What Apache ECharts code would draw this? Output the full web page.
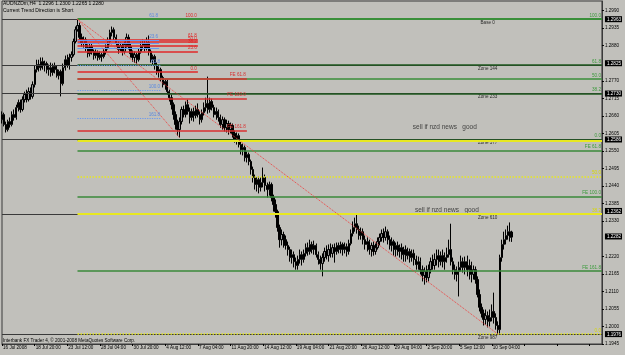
<!DOCTYPE html>
<html><head><meta charset="utf-8">
<script src="https://cdn.jsdelivr.net/npm/echarts@6/dist/echarts.min.js"></script>
<style>html,body{margin:0;padding:0;background:#c1c0bb}#c{width:625px;height:355px}</style>
</head><body><div id="c"></div>
<script>
// ---- data ----
const xTickLabels = ['16 Jul 2008','18 Jul 20:00','23 Jul 12:00','28 Jul 04:00','30 Jul 20:00','4 Aug 12:00','7 Aug 04:00','11 Aug 20:00','14 Aug 12:00','19 Aug 04:00','21 Aug 20:00','26 Aug 12:00','29 Aug 04:00','2 Sep 20:00','5 Sep 12:00','10 Sep 04:00'];
const slotCount = 295;
// [open, close, low, high]
const candles = [
[1.2648,1.2664,1.2636,1.2674],[1.2664,1.2633,1.2627,1.2670],[1.2633,1.2617,1.2608,1.2642],[1.2617,1.2642,1.2611,1.2648],[1.2642,1.2633,1.2623,1.2655],
[1.2633,1.2664,1.2627,1.2674],[1.2664,1.2655,1.2645,1.2680],[1.2655,1.2686,1.2648,1.2695],[1.2686,1.2702,1.2674,1.2711],[1.2702,1.2680,1.2670,1.2711],
[1.2680,1.2711,1.2674,1.2721],[1.2711,1.2727,1.2702,1.2736],[1.2727,1.2711,1.2702,1.2742],[1.2711,1.2736,1.2705,1.2749],[1.2736,1.2721,1.2711,1.2749],
[1.2721,1.2758,1.2714,1.2768],[1.2758,1.2805,1.2749,1.2818],[1.2805,1.2821,1.2796,1.2836],[1.2821,1.2811,1.2799,1.2836],[1.2811,1.2830,1.2802,1.2843],
[1.2830,1.2818,1.2805,1.2843],[1.2818,1.2824,1.2799,1.2833],[1.2824,1.2805,1.2793,1.2830],[1.2805,1.2811,1.2786,1.2821],[1.2811,1.2796,1.2783,1.2827],
[1.2796,1.2815,1.2786,1.2824],[1.2815,1.2805,1.2793,1.2827],[1.2805,1.2786,1.2780,1.2818],[1.2786,1.2799,1.2774,1.2805],[1.2799,1.2761,1.2721,1.2805],
[1.2761,1.2811,1.2755,1.2824],[1.2811,1.2836,1.2802,1.2849],[1.2836,1.2818,1.2811,1.2852],[1.2818,1.2843,1.2805,1.2855],[1.2843,1.2852,1.2830,1.2862],
[1.2852,1.2893,1.2846,1.2902],[1.2893,1.2930,1.2887,1.2940],[1.2930,1.2943,1.2924,1.2962],[1.2943,1.2906,1.2899,1.2952],[1.2906,1.2887,1.2877,1.2918],
[1.2887,1.2899,1.2874,1.2909],[1.2899,1.2874,1.2862,1.2906],[1.2874,1.2855,1.2843,1.2884],[1.2855,1.2877,1.2846,1.2887],[1.2877,1.2862,1.2852,1.2887],
[1.2862,1.2849,1.2836,1.2868],[1.2849,1.2858,1.2840,1.2868],[1.2858,1.2843,1.2833,1.2865],[1.2843,1.2852,1.2836,1.2862],[1.2852,1.2846,1.2830,1.2858],
[1.2846,1.2862,1.2840,1.2871],[1.2862,1.2874,1.2852,1.2884],[1.2874,1.2893,1.2868,1.2906],[1.2893,1.2921,1.2884,1.2930],[1.2921,1.2930,1.2909,1.2940],
[1.2930,1.2906,1.2896,1.2937],[1.2906,1.2887,1.2877,1.2915],[1.2887,1.2868,1.2855,1.2893],[1.2868,1.2880,1.2862,1.2890],[1.2880,1.2862,1.2849,1.2887],
[1.2862,1.2884,1.2855,1.2893],[1.2884,1.2906,1.2874,1.2918],[1.2906,1.2877,1.2868,1.2915],[1.2877,1.2855,1.2843,1.2887],[1.2855,1.2843,1.2830,1.2865],
[1.2843,1.2852,1.2827,1.2862],[1.2852,1.2836,1.2824,1.2858],[1.2836,1.2862,1.2830,1.2871],[1.2862,1.2880,1.2855,1.2893],[1.2880,1.2887,1.2868,1.2899],
[1.2887,1.2871,1.2862,1.2896],[1.2871,1.2890,1.2865,1.2906],[1.2890,1.2862,1.2849,1.2912],[1.2862,1.2836,1.2827,1.2868],[1.2836,1.2846,1.2821,1.2852],
[1.2846,1.2818,1.2805,1.2852],[1.2818,1.2799,1.2789,1.2827],[1.2799,1.2805,1.2780,1.2815],[1.2805,1.2780,1.2768,1.2811],[1.2780,1.2758,1.2749,1.2786],
[1.2758,1.2768,1.2742,1.2774],[1.2768,1.2736,1.2727,1.2774],[1.2736,1.2717,1.2705,1.2742],[1.2717,1.2695,1.2680,1.2727],[1.2695,1.2664,1.2648,1.2702],
[1.2664,1.2633,1.2617,1.2674],[1.2633,1.2617,1.2598,1.2648],[1.2617,1.2642,1.2592,1.2655],[1.2642,1.2680,1.2633,1.2689],[1.2680,1.2664,1.2655,1.2692],
[1.2664,1.2695,1.2655,1.2705],[1.2695,1.2674,1.2664,1.2711],[1.2674,1.2655,1.2636,1.2686],[1.2655,1.2674,1.2645,1.2683],[1.2674,1.2661,1.2642,1.2686],
[1.2661,1.2680,1.2652,1.2692],[1.2680,1.2664,1.2655,1.2699],[1.2664,1.2648,1.2633,1.2674],[1.2648,1.2670,1.2639,1.2680],[1.2670,1.2686,1.2661,1.2702],
[1.2686,1.2699,1.2674,1.2717],[1.2699,1.2680,1.2667,1.2783],[1.2680,1.2705,1.2670,1.2717],[1.2705,1.2686,1.2677,1.2714],[1.2686,1.2664,1.2655,1.2695],
[1.2664,1.2674,1.2648,1.2686],[1.2674,1.2655,1.2642,1.2680],[1.2655,1.2633,1.2623,1.2664],[1.2633,1.2648,1.2617,1.2658],[1.2648,1.2623,1.2611,1.2655],
[1.2623,1.2636,1.2608,1.2648],[1.2636,1.2617,1.2601,1.2645],[1.2617,1.2630,1.2605,1.2639],[1.2630,1.2605,1.2592,1.2636],[1.2605,1.2586,1.2576,1.2614],
[1.2586,1.2598,1.2570,1.2608],[1.2598,1.2570,1.2561,1.2605],[1.2570,1.2554,1.2539,1.2580],[1.2554,1.2561,1.2536,1.2573],[1.2561,1.2529,1.2517,1.2567],
[1.2529,1.2539,1.2514,1.2548],[1.2539,1.2517,1.2505,1.2545],[1.2517,1.2492,1.2476,1.2523],[1.2492,1.2467,1.2451,1.2501],[1.2467,1.2445,1.2429,1.2476],
[1.2445,1.2460,1.2423,1.2467],[1.2460,1.2436,1.2417,1.2470],[1.2436,1.2451,1.2423,1.2467],[1.2451,1.2467,1.2436,1.2498],[1.2467,1.2442,1.2423,1.2476],
[1.2442,1.2429,1.2404,1.2451],[1.2429,1.2445,1.2410,1.2454],[1.2445,1.2404,1.2392,1.2451],[1.2404,1.2382,1.2360,1.2413],[1.2382,1.2360,1.2341,1.2398],
[1.2360,1.2310,1.2297,1.2366],[1.2310,1.2272,1.2247,1.2319],[1.2272,1.2288,1.2254,1.2304],[1.2288,1.2272,1.2247,1.2297],[1.2272,1.2254,1.2241,1.2285],
[1.2254,1.2241,1.2222,1.2266],[1.2241,1.2216,1.2203,1.2250],[1.2216,1.2225,1.2197,1.2241],[1.2225,1.2203,1.2185,1.2235],[1.2203,1.2191,1.2178,1.2216],
[1.2191,1.2210,1.2178,1.2222],[1.2210,1.2225,1.2197,1.2241],[1.2225,1.2210,1.2191,1.2235],[1.2210,1.2229,1.2200,1.2241],[1.2229,1.2247,1.2219,1.2260],
[1.2247,1.2235,1.2222,1.2263],[1.2235,1.2257,1.2225,1.2272],[1.2257,1.2241,1.2229,1.2266],[1.2241,1.2254,1.2225,1.2269],[1.2254,1.2225,1.2216,1.2260],
[1.2225,1.2210,1.2194,1.2235],[1.2210,1.2197,1.2178,1.2222],[1.2197,1.2216,1.2157,1.2229],[1.2216,1.2235,1.2203,1.2247],[1.2235,1.2222,1.2210,1.2254],
[1.2222,1.2241,1.2203,1.2257],[1.2241,1.2229,1.2216,1.2260],[1.2229,1.2247,1.2216,1.2257],[1.2247,1.2235,1.2200,1.2260],[1.2235,1.2254,1.2225,1.2263],
[1.2254,1.2241,1.2229,1.2263],[1.2241,1.2257,1.2229,1.2266],[1.2257,1.2241,1.2222,1.2263],[1.2241,1.2250,1.2229,1.2263],[1.2250,1.2235,1.2219,1.2260],
[1.2235,1.2260,1.2225,1.2272],[1.2260,1.2291,1.2254,1.2304],[1.2291,1.2310,1.2282,1.2329],[1.2310,1.2322,1.2297,1.2341],[1.2322,1.2304,1.2291,1.2351],
[1.2304,1.2285,1.2272,1.2316],[1.2285,1.2297,1.2272,1.2310],[1.2297,1.2272,1.2257,1.2307],[1.2272,1.2257,1.2241,1.2285],[1.2257,1.2266,1.2235,1.2279],
[1.2266,1.2241,1.2225,1.2272],[1.2241,1.2254,1.2219,1.2263],[1.2254,1.2235,1.2222,1.2266],[1.2235,1.2247,1.2225,1.2260],[1.2247,1.2266,1.2241,1.2279],
[1.2266,1.2279,1.2254,1.2291],[1.2279,1.2291,1.2266,1.2304],[1.2291,1.2279,1.2263,1.2307],[1.2279,1.2297,1.2269,1.2313],[1.2297,1.2272,1.2257,1.2304],
[1.2272,1.2254,1.2241,1.2285],[1.2254,1.2266,1.2235,1.2279],[1.2266,1.2241,1.2222,1.2272],[1.2241,1.2254,1.2219,1.2263],[1.2254,1.2235,1.2222,1.2266],
[1.2235,1.2247,1.2216,1.2257],[1.2247,1.2225,1.2210,1.2260],[1.2225,1.2241,1.2203,1.2250],[1.2241,1.2222,1.2203,1.2254],[1.2222,1.2235,1.2210,1.2247],
[1.2235,1.2216,1.2200,1.2244],[1.2216,1.2229,1.2203,1.2241],[1.2229,1.2210,1.2191,1.2241],[1.2210,1.2194,1.2178,1.2222],[1.2194,1.2203,1.2178,1.2219],
[1.2203,1.2178,1.2163,1.2216],[1.2178,1.2160,1.2141,1.2191],[1.2160,1.2172,1.2131,1.2185],[1.2172,1.2153,1.2138,1.2191],[1.2153,1.2178,1.2141,1.2194],
[1.2178,1.2203,1.2166,1.2216],[1.2203,1.2191,1.2178,1.2225],[1.2191,1.2210,1.2178,1.2229],[1.2210,1.2222,1.2191,1.2241],[1.2222,1.2203,1.2185,1.2241],
[1.2203,1.2222,1.2191,1.2235],[1.2222,1.2203,1.2185,1.2241],[1.2203,1.2216,1.2178,1.2232],[1.2216,1.2225,1.2200,1.2247],[1.2225,1.2241,1.2216,1.2272],
[1.2241,1.2203,1.2191,1.2322],[1.2203,1.2178,1.2163,1.2216],[1.2178,1.2163,1.2147,1.2194],[1.2163,1.2172,1.2141,1.2188],[1.2172,1.2185,1.2094,1.2203],
[1.2185,1.2203,1.2172,1.2222],[1.2203,1.2185,1.2169,1.2216],[1.2185,1.2203,1.2163,1.2219],[1.2203,1.2178,1.2157,1.2222],[1.2178,1.2191,1.2147,1.2210],
[1.2191,1.2163,1.2138,1.2203],[1.2163,1.2178,1.2147,1.2191],[1.2178,1.2147,1.2134,1.2188],[1.2147,1.2100,1.2091,1.2157],[1.2100,1.2060,1.2047,1.2116],
[1.2060,1.2041,1.2028,1.2072],[1.2041,1.2022,1.2003,1.2053],[1.2022,1.2034,1.2006,1.2053],[1.2034,1.2016,1.1997,1.2047],[1.2016,1.2028,1.2000,1.2053],
[1.2028,1.2047,1.2016,1.2069],[1.2047,1.2028,1.2009,1.2106],[1.2028,1.2003,1.1990,1.2041],[1.2003,1.1990,1.1976,1.2016],[1.1990,1.2216,1.1978,1.2225],
[1.2216,1.2257,1.2203,1.2272],[1.2257,1.2272,1.2241,1.2297],[1.2272,1.2285,1.2257,1.2304],[1.2285,1.2297,1.2272,1.2316],[1.2297,1.2279,1.2266,1.2326],
[1.2296,1.2280,1.2265,1.2300]
];
const yTicks = [1.2990,1.2935,1.2880,1.2770,1.2715,1.2660,1.2605,1.2550,1.2495,1.2440,1.2385,1.2330,1.2220,1.2165,1.2110,1.2055,1.2000,1.1945];
const priceBoxes = [1.2963,1.2825,1.2730,1.2586,1.2362,1.2282,1.1976];
const zoneLevels = [1.2963,1.2819,1.2730,1.2586,1.2353,1.1976];
const zoneNames = ['Base 0','Zone 144','Zone 233','Zone 377','Zone 610','Zone 987'];
const fibGreenLevels = [1.2963,1.2819,1.2775,1.2730,1.2586];
const fibGreenTexts = ['100.0','61.8','50.0','38.2','0.0'];
const feGreenLevels = [1.2551,1.2407,1.2174];
const feGreenTexts = ['FE 61.8','FE 100.0','FE 161.8'];
const fibYellowLevels = [1.2581,1.2470,1.2353,1.1976];
const fibYellowTexts = ['','50.0','38.2','0.0'];
const fibRedLevels = [1.2963,1.2900,1.2891,1.2880,1.2861,1.2798];
const fibRedTexts = ['100.0','61.8','50.0','38.2','23.6','0.0'];
const feRedLevels = [1.2777,1.2714,1.2614];
const feRedTexts = ['FE 61.8','FE 100.0','FE 161.8'];
const fibBlueLevels = [1.2963,1.2897,1.2887,1.2873];
const fibBlueTexts = ['61.8','23.6','',''];
const feBlueLevels = [1.2818,1.2739,1.2652];
const feBlueTexts = ['61.8','100.0','161.8'];
const trendLines = [[[37,1.2963],[87,1.2592]],[[37,1.2963],[243,1.1976]]];
const notes = [['sell if nzd news   good',217,1.2624],['sell if nzd news   good',218,1.2364]];

// ---- chart ----
const FS = 4.6;
const FONT = 'Liberation Sans, Arial, sans-serif';
const chart = echarts.init(document.getElementById('c'), null, {renderer:'canvas', width:625, height:355});
const cats = Array.from({length: slotCount}, (_, i) => String(i));
const lastIdx = slotCount - 1;
const fibStart = 37;

function seg(x1, x2, v, color, type, width, text, labelColor){
  return [{coord:[x1, v], lineStyle:{color:color, type:type, width:width},
    label:{show: !!text, formatter: text || '', position:'insideEndTop', distance:1, color: labelColor || color, fontSize:FS, fontFamily:FONT}},
    {coord:[x2, v]}];
}
const ml = [];
zoneLevels.forEach(v => ml.push(seg(0, lastIdx, v, '#3a3a3a', 'solid', 1, '')));
fibGreenLevels.forEach((v,i) => ml.push(seg(fibStart, lastIdx, v, (i===1||i===3)?'#1f5a1f':(i===4?'#1f5a1f':'#3a8f3a'), 'solid', (i===0)?2:1.5, fibGreenTexts[i], '#3a9a3a')));
fibYellowLevels.forEach((v,i) => ml.push(seg(fibStart, lastIdx, v, '#e8e820', i===0||i===2 ? 'solid':'dotted', i===0||i===2 ? 2 : 1.5, fibYellowTexts[i], '#d8d800')));
feGreenLevels.forEach((v,i) => ml.push(seg(fibStart, lastIdx, v, '#3a8a3a', 'solid', 1.5, feGreenTexts[i], '#3a9a3a')));
fibRedLevels.forEach((v,i) => { if(i>0) ml.push(seg(fibStart, 96, v, '#e02828', 'solid', 1.5, fibRedTexts[i])); });
ml.push(seg(fibStart, 96, fibRedLevels[0], 'rgba(0,0,0,0)', 'solid', 1, fibRedTexts[0], '#e02828'));
feRedLevels.forEach((v,i) => ml.push(seg(fibStart, 120, v, '#d83030', 'solid', 1.5, feRedTexts[i])));
fibBlueLevels.forEach((v,i) => ml.push(seg(fibStart, 77, v, i===0?'rgba(0,0,0,0)':'#6a98f0', 'solid', 1.2, fibBlueTexts[i], '#5a88e0')));
feBlueLevels.forEach((v,i) => ml.push(seg(fibStart, 78, v, '#6a98f0', 'dotted', 1.2, feBlueTexts[i], '#5a88e0')));
trendLines.forEach(t => ml.push([{coord:t[0], lineStyle:{color:'#f04040', type:'dotted', width:1}, label:{show:false}}, {coord:t[1]}]));

const option = {
  backgroundColor:'#c1c0bb',
  animation:false,
  title:[
    {text:'AUDNZDm,H4  1.2296 1.2300 1.2265 1.2280', left:3, top:1, padding:0, textStyle:{fontSize:5, color:'#000', fontWeight:'normal', fontFamily:FONT}},
    {text:'Current Trend Direction is Short', left:3, top:8, padding:0, textStyle:{fontSize:5, color:'#000', fontWeight:'normal', fontFamily:FONT}},
    {text:'Interbank FX Trader 4, © 2001-2008 MetaQuotes Software Corp.', left:3, top:338, padding:0, textStyle:{fontSize:4.6, color:'#000', fontWeight:'normal', fontFamily:FONT}}
  ],
  grid:{left:1, right:19, top:1, bottom:11, show:true, borderColor:'#3a3a3a', borderWidth:1, backgroundColor:'transparent'},
  xAxis:{type:'category', data:cats, boundaryGap:false,
    axisLine:{show:true, lineStyle:{color:'#3a3a3a'}},
    axisTick:{show:true, interval:(i)=> i%16===0, length:2, lineStyle:{color:'#000'}},
    axisLabel:{interval:(i)=> i%16===0, formatter:(v,i)=> xTickLabels[i/16] || '', align:'left', fontSize:FS, color:'#000', margin:1, padding:[0,0,0,1], fontFamily:FONT},
    splitLine:{show:false}},
  yAxis:{type:'value', position:'right', min:1.1945, max:1.3020,
    axisLine:{show:true, lineStyle:{color:'#3a3a3a'}},
    axisTick:{show:true, customValues:yTicks, length:2, lineStyle:{color:'#000'}},
    axisLabel:{customValues: yTicks.concat(priceBoxes), showMinLabel:true, showMaxLabel:true,
      formatter:(v)=> priceBoxes.indexOf(v) >= 0 ? '{b|' + v.toFixed(4) + '}' : v.toFixed(4),
      fontSize:FS, color:'#000', margin:3, fontFamily:FONT,
      rich:{b:{backgroundColor:'#000', color:'#fff', fontSize:FS, padding:[1,1,0,2], fontFamily:FONT}}},
    splitLine:{show:false}},
  series:[
    {type:'line', data:[], z:1, silent:true,
      markLine:{silent:true, symbol:['none','none'], animation:false, data:ml}},
    {type:'candlestick', data:candles, z:3, barWidth:1.8,
      itemStyle:{color:'#9a9a9a', color0:'#000000', borderColor:'#000000', borderColor0:'#000000', borderWidth:1}},
    {type:'scatter', z:4, symbolSize:0, silent:true,
      data: zoneLevels.map((v,i)=>({value:[238, v], name:zoneNames[i]})),
      label:{show:true, position:'bottom', distance:1, formatter:(p)=>p.name, color:'#000', fontSize:FS, fontFamily:FONT}},
    {type:'scatter', z:4, symbolSize:0, silent:true,
      data: notes.map(n=>({value:[n[1], n[2]], name:n[0]})),
      label:{show:true, position:'inside', formatter:(p)=>p.name, color:'#222', fontSize:6.5, fontFamily:FONT}}
  ]
};
chart.setOption(option);
</script></body></html>
